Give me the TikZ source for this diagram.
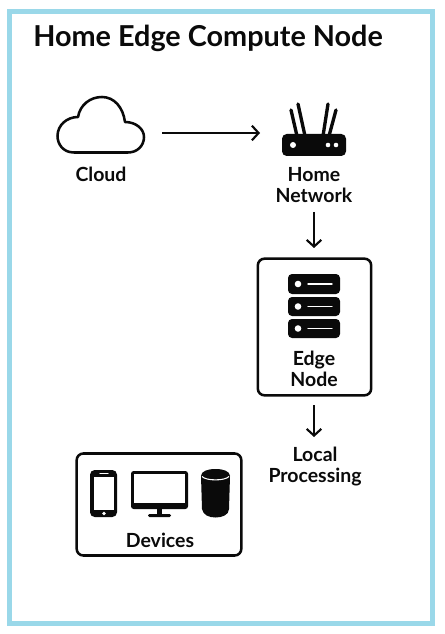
\documentclass[tikz,border=0pt]{standalone}
\usepackage{fontspec}
\setmainfont{Lato}
\usetikzlibrary{arrows.meta}
\definecolor{frameblue}{HTML}{9AD8E9}
\definecolor{ink}{HTML}{0A0A0A}
\tikzset{
  x=0.75pt,y=-0.75pt,
  panel/.style={draw=ink,line width=1.9pt,rounded corners=5pt,fill=white},
  lab/.style={text=ink,font=\fontsize{14.6pt}{15.6pt}\selectfont\bfseries,align=center,inner sep=0pt},
  flow/.style={draw=ink,line width=1.6pt,-{Straight Barb[length=5pt,width=11pt,line width=1.6pt]}},
  cut/.style={draw=white,line width=1.1pt,line cap=round},
}
\begin{document}
\begin{tikzpicture}
\useasboundingbox (0,0) rectangle (444,634);
\fill[white] (0,0) rectangle (444,634);
\draw[frameblue,line width=3.9pt] (9.7,11.7) rectangle (432.5,623.5);
\node[text=ink,font=\fontsize{21.6pt}{24pt}\selectfont\bfseries,anchor=base west,inner sep=0pt] (title) at (33,47) {Home Edge Compute Node};
% Cloud
\draw[draw=ink,line width=1.9pt,line join=round,fill=white]
  (74,152.5) .. controls (63,152.5) and (57.5,144) .. (57.5,136)
  .. controls (57.5,125) and (67,117) .. (78,117)
  .. controls (80,105) and (90,97) .. (102,97)
  .. controls (114,97) and (123,107) .. (125,122)
  .. controls (136,122) and (144,129) .. (144,137)
  .. controls (144,146) and (137,152.5) .. (128,152.5) -- cycle;
\coordinate (cloudout) at (162,133);
\node[lab] (cloudlab) at (101,174.5) {Cloud};
% Router
\draw[ink,line width=2.5pt,line cap=round] (291,110) -- (297,136) (298,104) -- (305,136) (328,104) -- (323,136) (336,110) -- (329,136);
\fill[ink,rounded corners=3.5pt] (282,134) rectangle (346,156);
\fill[white] (293,145) circle (3) (328,145) circle (2.3) (336,145) circle (2.3);
\coordinate (routerin) at (260,133);
\node[lab] (homelab) at (314,185) {Home\\Network};
% Edge node
\node[panel,minimum width=85pt,minimum height=102.5pt,inner sep=0pt] (edge) at (314.5,327) {};
\foreach \a/\b/\m in {274/294/284,297/316/306.5,319/338/328.5}{
  \fill[ink,rounded corners=3pt] (288,\a) rectangle (340,\b);
  \fill[white] (298,\m) circle (3.3);
  \draw[cut] (308,\m) -- (332,\m);
}
\node[lab] (edgelab) at (314,369) {Edge\\Node};
% Local processing
\node[lab] (local) at (315,466.5) {Local\\Processing};
% Devices
\node[panel,minimum width=123.5pt,minimum height=76.5pt,inner sep=0pt] (devices) at (159,504.5) {};
\fill[ink,rounded corners=3.5pt] (90,470) rectangle (117,517);
\fill[white] (94,477) rectangle (113.5,509.5);
\fill[white] (104,513.5) circle (1.9);
\draw[white,line width=0.8pt,line cap=round] (100,473.8) -- (108,473.8);
\fill[ink,rounded corners=2pt] (131,471) rectangle (188,509);
\fill[white] (134,474) rectangle (185,503);
\fill[ink] (157,509) rectangle (162,515);
\fill[ink,rounded corners=1pt] (148,514) rectangle (171,517);
\fill[ink] (201,476) .. controls (201,471) and (208,469) .. (215.5,469)
  .. controls (223,469) and (230,471) .. (230,476)
  -- (229,509) .. controls (229,515) and (222,517.5) .. (215.5,517.5)
  .. controls (209,517.5) and (203,515) .. (202,509) -- cycle;
\draw[white,line width=0.8pt] (202,476.5) .. controls (206,481) and (225,481) .. (229,476.5);
\node[lab] (devlab) at (160,540.5) {Devices};
% Connectors
\coordinate (homeout) at (314,212);
\coordinate (edgein) at (314,248);
\coordinate (edgeout) at (314,405);
\coordinate (localin) at (314,437);
\draw[flow] (cloudout) -- (routerin);
\draw[flow] (homeout) -- (edgein);
\draw[flow] (edgeout) -- (localin);
\end{tikzpicture}
\end{document}
